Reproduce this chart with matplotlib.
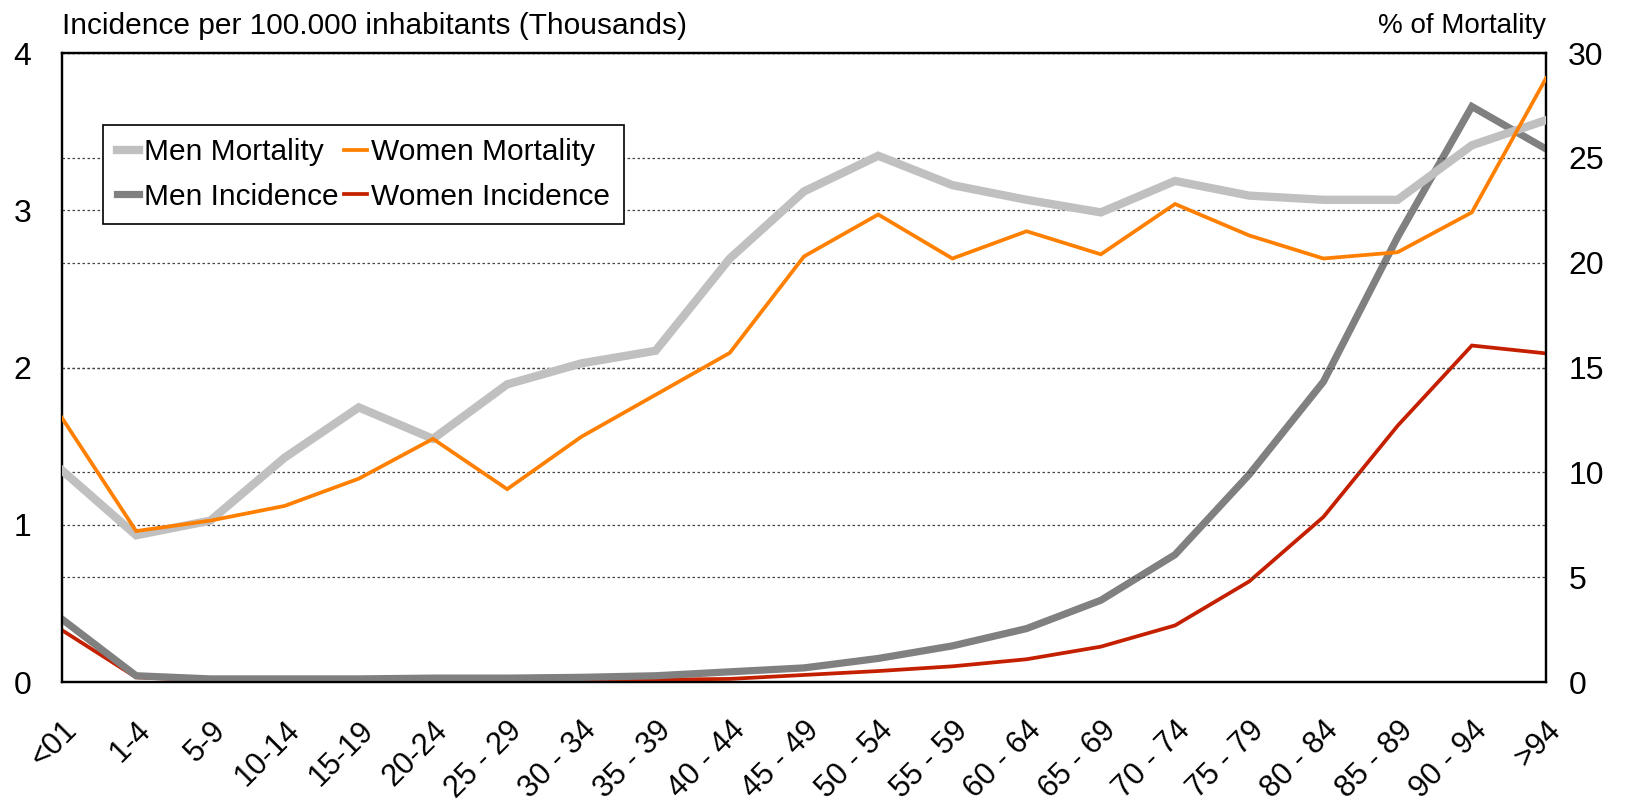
import matplotlib
matplotlib.use("Agg")
import matplotlib.pyplot as plt

plt.rcParams['font.family'] = ['Liberation Sans', 'DejaVu Sans']

ages = ["<01", "1-4", "5-9", "10-14", "15-19", "20-24", "25 - 29", "30 - 34", "35 - 39",
        "40 - 44", "45 - 49", "50 - 54", "55 - 59", "60 - 64", "65 - 69", "70 - 74",
        "75 - 79", "80 - 84", "85 - 89", "90 - 94", ">94"]

# % of mortality (right axis)
men_mort = [10.1, 7.0, 7.7, 10.7, 13.1, 11.6, 14.2, 15.2, 15.8, 20.2, 23.4, 25.1,
            23.7, 23.0, 22.4, 23.9, 23.2, 23.0, 23.0, 25.6, 26.8]
women_mort = [12.6, 7.2, 7.7, 8.4, 9.7, 11.6, 9.2, 11.7, 13.7, 15.7, 20.3, 22.3,
              20.2, 21.5, 20.4, 22.8, 21.3, 20.2, 20.5, 22.4, 28.8]

# incidence per 100.000 inhabitants, thousands (left axis)
men_inc = [0.40, 0.04, 0.02, 0.02, 0.02, 0.025, 0.025, 0.03, 0.04, 0.065, 0.09, 0.15,
           0.23, 0.34, 0.52, 0.81, 1.32, 1.91, 2.83, 3.66, 3.39]
women_inc = [0.33, 0.03, 0.01, 0.01, 0.01, 0.01, 0.01, 0.01, 0.015, 0.02, 0.045, 0.07,
             0.10, 0.145, 0.225, 0.36, 0.64, 1.05, 1.63, 2.14, 2.09]

x = list(range(len(ages)))

fig = plt.figure(figsize=(16.3, 8.11), dpi=100)
ax = fig.add_axes([0.038, 0.159, 0.9105, 0.7756])
ax2 = ax.twinx()

ax.set_xlim(0, len(ages) - 1)
ax.set_ylim(0, 4)
ax2.set_ylim(0, 30)
ax.set_yticks([0, 1, 2, 3, 4])
ax2.set_yticks([0, 5, 10, 15, 20, 25, 30])

grid_style = dict(color='#444444', linestyle=(0, (2, 2)), linewidth=0.9)
ax.yaxis.grid(True, **grid_style)
ax2.yaxis.grid(True, **grid_style)
ax.set_axisbelow(True)
ax2.set_axisbelow(True)

l3, = ax.plot(x, women_inc, color='#C42000', linewidth=2.7, solid_joinstyle='miter', zorder=3)
l2, = ax.plot(x, men_inc, color='#808080', linewidth=5.2, solid_joinstyle='miter', zorder=4)
l0, = ax2.plot(x, men_mort, color='#C0C0C0', linewidth=6.0, solid_joinstyle='miter', zorder=3)
l1, = ax2.plot(x, women_mort, color='#FF8000', linewidth=2.7, solid_joinstyle='miter', zorder=4)

ax.set_xticks(x)
ax.set_xticklabels(ages, rotation=45, ha='right', rotation_mode='anchor', fontsize=22)
ax.tick_params(axis='x', length=0, pad=24)
ax.tick_params(axis='y', length=0, pad=22, labelsize=23)
ax2.tick_params(axis='y', length=0, pad=16, labelsize=23)

for a in (ax, ax2):
    for s in a.spines.values():
        s.set_color('black')
        s.set_linewidth(1.6)

fig.text(0.038, 0.968, "Incidence per 100.000 inhabitants (Thousands)", ha='left',
         va='center', fontsize=21.5)
fig.text(0.9485, 0.968, "% of Mortality", ha='right', va='center', fontsize=20)

leg = ax2.legend([l0, l2, l1, l3],
                 ["Men Mortality", "Men Incidence", "Women Mortality", "Women Incidence"],
                 ncol=2, loc='upper left', bbox_to_anchor=(0.028, 0.886),
                 borderaxespad=0, fontsize=21.5, handlelength=0.75, handletextpad=0.15,
                 columnspacing=0.2, labelspacing=0.55, borderpad=0.45,
                 fancybox=False, framealpha=1)
leg.get_frame().set_edgecolor('black')
leg.get_frame().set_linewidth(1.2)

fig.savefig("out.png", dpi=100)
